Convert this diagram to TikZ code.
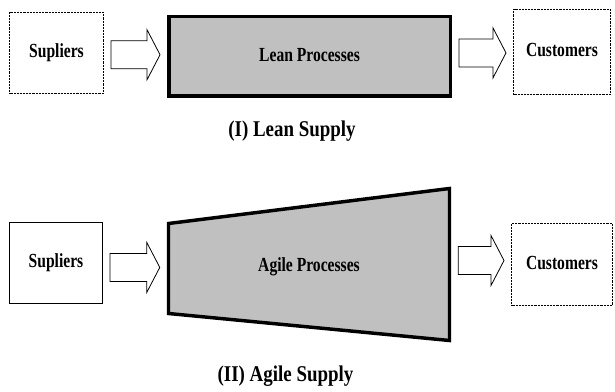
\documentclass[tikz,border=0pt]{standalone}
\usepackage{fontspec}
\setmainfont{Liberation Serif}
\newfontfamily\boxfont{Liberation Serif}[FakeStretch=0.78]
\newfontfamily\capfont{Liberation Serif}[FakeStretch=0.84]
\usetikzlibrary{calc}

\definecolor{procgray}{HTML}{C0C0C0}

% outlined block arrow from the east side of #2 to the west side of #3,
% optional #1 moves it up (+) or down (-)
\newcommand{\blockarrow}[3][0pt]{%
  \draw[blockarr] let \p1=(#2.east), \p2=(#3.west),
      \p3=($(#2.east)!0.5!(#3.west)+(0,#1)$) in
    (\x1+5.25pt,\y3+10.5pt) -- (\x2-15pt,\y3+10.5pt) -- (\x2-15pt,\y3+18.75pt)
    -- (\x2-5.25pt,\y3) -- (\x2-15pt,\y3-18.75pt) -- (\x2-15pt,\y3-10.5pt)
    -- (\x1+5.25pt,\y3-10.5pt) -- cycle;}

\begin{document}
\begin{tikzpicture}[x=0.75pt, y=-0.75pt,
  box/.style={draw, line width=0.75pt, dash pattern=on 0.6pt off 0.5pt, inner sep=0pt,
    font=\boxfont\bfseries\fontsize{15pt}{15pt}\selectfont, text height=10pt, text depth=3pt},
  solidbox/.style={box, solid},
  process/.style={draw, line width=2.6pt, fill=procgray, inner sep=0pt,
    font=\boxfont\bfseries\fontsize{15pt}{15pt}\selectfont, text height=10pt, text depth=3pt},
  caption/.style={anchor=base, inner sep=0pt, font=\capfont\bfseries\fontsize{16.9pt}{17pt}\selectfont},
  blockarr/.style={draw, line width=0.6pt, fill=white}
]
\useasboundingbox (0,0) rectangle (615,392);

% (I) lean supply
\node[box, minimum width=70.5pt, minimum height=60.75pt] (sup1) at (56.5,53) {Supliers};
\node[process, minimum width=211.1pt, minimum height=59.6pt] (lean) at (309.5,56.5) {Lean Processes};
\node[box, minimum width=72.75pt, minimum height=63.75pt] (cust1) at (562,52) {Customers};
\blockarrow{sup1}{lean}
\blockarrow[1pt]{lean}{cust1}
\node[caption] (cap1) at (292,137) {(I) Lean Supply};

% (II) agile supply, the process widens to the right
\draw[process] (168.5,223.5) -- (449.5,188.5) -- (449.5,340.5) -- (168.5,313.5) -- cycle;
\node[process, draw=none, fill=none, minimum width=210.75pt, minimum height=67.5pt] (agile) at (309,266.5) {Agile Processes};
\node[solidbox, minimum width=69.75pt, minimum height=60.75pt] (sup2) at (56,263) {Supliers};
\node[box, minimum width=75.75pt, minimum height=61.5pt] (cust2) at (562,264.5) {Customers};
\blockarrow[-2pt]{sup2}{agile}
\blockarrow[3.75pt]{agile}{cust2}
\node[caption] (cap2) at (285.5,382) {(II) Agile Supply};

\end{tikzpicture}
\end{document}
